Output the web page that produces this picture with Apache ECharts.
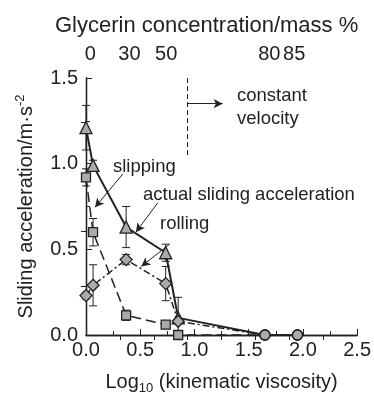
<!DOCTYPE html>
<html>
<head>
<meta charset="utf-8">
<script src="https://cdn.jsdelivr.net/npm/echarts@6/dist/echarts.min.js"></script>
<style>
  html, body { margin: 0; padding: 0; background: #fff; }
  #chart { width: 374px; height: 400px; }
</style>
</head>
<body>
<div id="chart"></div>
<script>
// log10 of kinematic viscosity for each glycerin mixture
const viscX = [0, 0.065, 0.37, 0.735, 0.85, 1.65, 1.95];

// sliding acceleration (m/s^2) and error bar half-widths
const actualAcc = [1.21, 0.99, 0.63, 0.48, 0.10, 0, 0];
const actualErr = [0.13, 0.03, 0.12, 0.05, 0.12, 0, 0];
const slipAcc = [0.92, 0.60, 0.115, 0.06, 0.0, 0, 0];
const slipErr = [0.05, 0.08, 0.03, 0.01, 0, 0, 0];
const rollAcc = [0.23, 0.29, 0.44, 0.30, 0.08, 0, 0];
const rollErr = [0.02, 0.12, 0.03, 0.10, 0, 0, 0];

// top axis: glycerin concentration labels placed at their log viscosity
const glycerinLabels = ['0', '30', '50', '80', '85'];
const glycerinPos = [0.04, 0.40, 0.74, 1.69, 1.92];
const topTicks = [0.3125, 0.625, 0.9375, 1.25, 1.5625, 1.875, 2.1875];
const rightTicks = [0.285, 0.605, 0.924, 1.244];

const FONT = 'Liberation Sans, Arial, sans-serif';
const INK = '#222';

var myChart = echarts.init(document.getElementById('chart'));

// past the glycerin range every series ends on the same round markers
const sym = (shape) => (v) => (v[0] > 1.5 ? 'circle' : shape);
const symSize = (size) => (v) => (v[0] > 1.5 ? 10 : size);

function errBars(vals, errs) {
  return {
    type: 'custom',
    silent: true,
    z: 1,
    data: viscX.map((x, i) => [x, vals[i] - errs[i], vals[i] + errs[i]]).filter(d => d[2] > d[1]),
    encode: { x: 0, y: [1, 2] },
    renderItem(params, api) {
      const lo = api.coord([api.value(0), api.value(1)]);
      const hi = api.coord([api.value(0), api.value(2)]);
      const w = 4;
      const st = { stroke: INK, lineWidth: 1 };
      return {
        type: 'group',
        children: [
          { type: 'line', shape: { x1: lo[0], y1: lo[1], x2: hi[0], y2: hi[1] }, style: st },
          { type: 'line', shape: { x1: lo[0] - w, y1: lo[1], x2: lo[0] + w, y2: lo[1] }, style: st },
          { type: 'line', shape: { x1: hi[0] - w, y1: hi[1], x2: hi[0] + w, y2: hi[1] }, style: st }
        ]
      };
    }
  };
}

function arrow(from, to) {
  return [{ coord: from, symbol: 'none' }, { coord: to, symbol: 'arrow' }];
}

const markerStyle = { color: '#aaa', borderColor: INK, borderWidth: 1.3 };
const noteFont = '18.5px ' + FONT;

myChart.setOption({
  animation: false,
  textStyle: { fontFamily: FONT, color: INK },
  title: {
    text: 'Glycerin concentration/mass %',
    left: 50,
    top: 10,
    textStyle: { fontFamily: FONT, fontSize: 22, fontWeight: 'normal', color: INK }
  },
  grid: { left: 86, right: 16, top: 78, bottom: 64 },
  xAxis: [
    {
      type: 'value', position: 'bottom', min: 0, max: 2.5, interval: 0.5,
      axisLine: { lineStyle: { color: INK, width: 1.3 } },
      axisTick: { inside: true, length: 6, lineStyle: { color: INK } },
      minorTick: { show: true, splitNumber: 2, length: 4, lineStyle: { color: INK } },
      splitLine: { show: false },
      axisLabel: { fontSize: 20, color: INK, margin: 5, formatter: v => v.toFixed(1) },
      name: 'Log{sub|10} (kinematic viscosity)',
      nameLocation: 'middle',
      nameGap: 35,
      nameTextStyle: {
        fontSize: 20, color: INK,
        rich: { sub: { fontSize: 13, color: INK, padding: [12, 0, 0, 0] } }
      }
    },
    {
      type: 'value', position: 'top', min: 0, max: 2.5,
      axisLine: { lineStyle: { color: INK, width: 1.3 } },
      axisTick: { inside: true, length: 5, customValues: topTicks, lineStyle: { color: INK } },
      splitLine: { show: false },
      axisLabel: {
        fontSize: 20, color: INK, margin: 14,
        customValues: glycerinPos,
        formatter: v => glycerinLabels[glycerinPos.indexOf(v)]
      }
    }
  ],
  yAxis: [
    {
      type: 'value', position: 'left', min: 0, max: 1.5, interval: 0.5,
      axisLine: { show: true, lineStyle: { color: INK, width: 1.3 } },
      axisTick: { show: true, inside: true, length: 6, lineStyle: { color: INK } },
      minorTick: { show: true, splitNumber: 2, length: 4, lineStyle: { color: INK } },
      splitLine: { show: false },
      axisLabel: { fontSize: 20, color: INK, margin: 8, formatter: v => v.toFixed(1) },
      name: 'Sliding acceleration/m·s{sup|-2}',
      nameLocation: 'middle',
      nameRotate: 90,
      nameGap: 47,
      nameTextStyle: {
        fontSize: 20, color: INK,
        rich: { sup: { fontSize: 13, color: INK, padding: [0, 0, 12, 0] } }
      }
    },
    {
      type: 'value', position: 'right', min: 0, max: 1.5,
      axisLine: { show: true, lineStyle: { color: INK, width: 1.3 } },
      axisTick: { show: true, inside: true, length: 5, customValues: rightTicks, lineStyle: { color: INK } },
      splitLine: { show: false },
      axisLabel: { show: false }
    }
  ],
  series: [
    errBars(slipAcc, slipErr),
    errBars(actualAcc, actualErr),
    errBars(rollAcc, rollErr),
    {
      name: 'slipping', type: 'line', silent: true,
      data: viscX.map((x, i) => [x, slipAcc[i]]),
      symbol: sym('rect'), symbolSize: symSize(9),
      lineStyle: { color: INK, width: 1.5, type: [10, 5] },
      itemStyle: markerStyle
    },
    {
      name: 'actual sliding acceleration', type: 'line', silent: true,
      data: viscX.map((x, i) => [x, actualAcc[i]]),
      symbol: sym('triangle'), symbolSize: symSize(12),
      lineStyle: { color: INK, width: 2 },
      itemStyle: markerStyle,
      markLine: {
        silent: true,
        symbolSize: [7, 9],
        label: { show: false },
        lineStyle: { color: INK, width: 1, type: 'solid' },
        data: [
          arrow([0.34, 0.94], [0.083, 0.745]),
          arrow([0.66, 0.77], [0.46, 0.60]),
          arrow([0.77, 0.53], [0.51, 0.40]),
          arrow([0.9375, 1.35], [1.26, 1.35]),
          [{ coord: [0.9375, 1.5], symbol: 'none', lineStyle: { type: [5, 3] } },
           { coord: [0.9375, 1.05], symbol: 'none' }]
        ]
      }
    },
    {
      name: 'rolling', type: 'line', silent: true,
      data: viscX.map((x, i) => [x, rollAcc[i]]),
      symbol: sym('diamond'), symbolSize: symSize(12),
      lineStyle: { color: INK, width: 1.5, type: [7, 3, 2, 3] },
      itemStyle: markerStyle
    }
  ],
  graphic: [
    { type: 'text', x: 113, y: 167, style: { text: 'slipping', font: noteFont, fill: INK, verticalAlign: 'middle' } },
    { type: 'text', x: 143, y: 195, style: { text: 'actual sliding acceleration', font: noteFont, fill: INK, verticalAlign: 'middle' } },
    { type: 'text', x: 160, y: 224, style: { text: 'rolling', font: noteFont, fill: INK, verticalAlign: 'middle' } },
    { type: 'text', x: 237, y: 96, style: { text: 'constant', font: noteFont, fill: INK, verticalAlign: 'middle' } },
    { type: 'text', x: 237, y: 119, style: { text: 'velocity', font: noteFont, fill: INK, verticalAlign: 'middle' } }
  ]
});
</script>
</body>
</html>
